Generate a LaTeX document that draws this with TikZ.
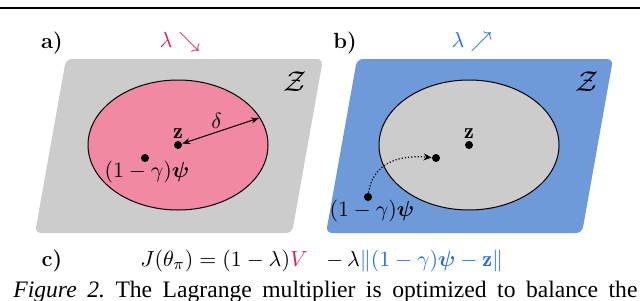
\documentclass[tikz,border=0pt]{standalone}
\usepackage{fontspec}
\usepackage{amsmath,amssymb,bm}
\usetikzlibrary{arrows.meta}
\newfontfamily\capfont{Liberation Serif}
\definecolor{pinkfill}{RGB}{241,137,163}
\definecolor{grayfill}{RGB}{204,204,204}
\definecolor{bluefill}{RGB}{110,154,218}
\definecolor{redtxt}{RGB}{226,30,90}
\definecolor{bluetxt}{RGB}{35,110,230}
\tikzset{
  panel/.style={rounded corners=3pt, draw=none},
  region/.style={draw=black, line width=0.5pt},
  dotpt/.style={circle, fill=black, inner sep=0pt, minimum size=4pt},
  lbl/.style={font=\fontsize{11pt}{13pt}\selectfont, inner sep=0pt},
  tag/.style={font=\fontsize{11pt}{13pt}\selectfont\bfseries, inner sep=0pt},
  zlbl/.style={font=\fontsize{15pt}{17pt}\selectfont, inner sep=0pt},
}
\frenchspacing
\begin{document}
\begin{tikzpicture}[x=0.5pt,y=-0.5pt]
\useasboundingbox (0,0) rectangle (640,300);
% top rule
\draw[line width=1.1pt] (0,8) -- (640,8);
% panel a
\fill[panel, grayfill] (66,59) -- (323,59) -- (292,233) -- (35,233) -- cycle;
\draw[region, fill=pinkfill] (178,145) ellipse [x radius=90, y radius=65];
\coordinate (aedge) at (259,118);
\node[dotpt] (az) at (178,145) {};
\node[dotpt] (apsi) at (145,158) {};
\node[lbl, anchor=south] (azl) at (178,139) {$\mathbf{z}$};
\node[lbl] (apsil) at (147,172) {$(1-\gamma)\bm{\psi}$};
\draw[{Stealth[length=4pt,width=3pt]}-{Stealth[length=4pt,width=3pt]}, line width=0.5pt] (az) -- (aedge) node[midway, above, lbl, yshift=1pt, xshift=-2pt] {$\delta$};
\node[zlbl] (aZ) at (295,82) {$\mathcal{Z}$};
\node[tag] (ta) at (52,43) {a)};
\node[lbl, text=redtxt] (lama) at (180,42) {$\lambda\searrow$};
% panel b
\fill[panel, bluefill] (357,59) -- (613,59) -- (582,233) -- (326,233) -- cycle;
\draw[region, fill=grayfill] (469,145) ellipse [x radius=90, y radius=65];
\node[dotpt] (bz) at (469,145) {};
\node[dotpt] (bin) at (436,158) {};
\node[dotpt] (bout) at (368,197) {};
\node[lbl, anchor=south] (bzl) at (469,139) {$\mathbf{z}$};
\node[lbl] (bpsil) at (372,211) {$(1-\gamma)\bm{\psi}$};
\draw[densely dotted, line width=0.6pt, -{Stealth[length=4pt,width=3.5pt]}] (bout) .. controls (372,168) and (392,154) .. (bin);
\node[zlbl] (bZ) at (587,82) {$\mathcal{Z}$};
\node[tag] (tb) at (345,43) {b)};
\node[lbl, text=bluetxt] (lamb) at (472,42) {$\lambda\nearrow$};
% row c
\node[tag, anchor=base] (tc) at (52,266) {c)};
\node[lbl, anchor=base west] (f1) at (140,266) {$J(\theta_\pi) = (1-\lambda)\textcolor{redtxt}{V}$};
\node[lbl, anchor=base west] (f2) at (326,266) {$-\,\lambda\textcolor{bluetxt}{\|(1-\gamma)\bm{\psi}-\mathbf{z}\|}$};
% caption
\node[inner sep=0pt, anchor=base west, font=\capfont\fontsize{11.8pt}{13pt}\selectfont] (cap) at (13,297)
  {\makebox[312pt][s]{\textit{Figure 2.} The Lagrange multiplier is optimized to balance the}};
\end{tikzpicture}
\end{document}
